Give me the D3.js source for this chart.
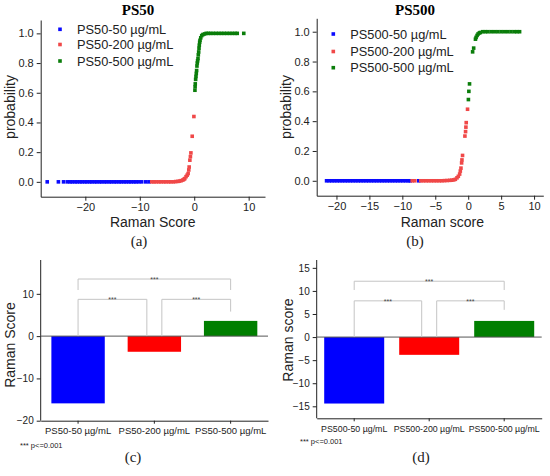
<!DOCTYPE html>
<html>
<head>
<meta charset="utf-8">
<script src="https://cdn.jsdelivr.net/npm/d3@7"></script>
<style>
  body { margin: 0; background: #fff; }
  svg { display: block; }
</style>
</head>
<body>
<svg id="chart" width="550" height="476"></svg>
<script>
// ---- data ----
// panel (a) PS50: [Raman score, probability]
var ps50_50 = [[-27.0,0],[-24.95,0],[-24.0,0],[-23.3,0],[-22.8,0],[-22.4,0],[-21.9,0],[-21.5,0],[-21.0,0],
  [-20.6,0],[-20.1,0],[-19.7,0],[-19.2,0],[-18.8,0],[-18.3,0],[-17.9,0],[-17.4,0],[-17.0,0],[-16.5,0],
  [-16.1,0],[-15.6,0],[-15.2,0],[-14.7,0],[-14.3,0],[-13.8,0],[-13.4,0],[-12.9,0],[-12.5,0],[-12.0,0],
  [-11.6,0],[-11.1,0],[-10.7,0],[-10.2,0],[-9.65,0],[-8.9,0],[-8.3,0]];
var ps50_200 = [[-7.8,0],[-7.4,0],[-7.0,0],[-6.5,0],[-6.1,0],[-5.6,0],[-5.2,0],[-4.7,0],[-4.3,0],
  [-3.8,0],[-3.4,0.002],[-3.0,0.003],[-2.7,0.005],[-2.4,0.008],[-2.1,0.012],[-1.9,0.017],[-1.73,0.022],
  [-1.5,0.035],[-1.3,0.045],[-1.12,0.056],[-1.0,0.08],[-0.93,0.10],[-0.8,0.146],[-0.7,0.17],
  [-0.61,0.195],[-0.37,0.307],[-0.06,0.44]];
var ps50_500 = [[0.13,0.617],[0.16,0.64],[0.19,0.66],[0.26,0.69],[0.32,0.71],[0.38,0.73],[0.44,0.75],
  [0.5,0.78],[0.56,0.80],[0.62,0.815],[0.69,0.83],[0.75,0.855],[0.82,0.875],[0.88,0.9],[0.93,0.92],
  [1.0,0.94],[1.06,0.953],[1.2,0.97],[1.38,0.985],[1.6,0.992],[1.9,0.996],[2.2,1],[2.6,1],[3.0,1],
  [3.5,1],[4.0,1],[4.5,1],[5.0,1],[5.5,1],[6.0,1],[6.5,1],[7.0,1],[7.5,1],[7.9,1],[9.1,1]];

// panel (b) PS500
var ps500_50 = [[-21.5,0],[-21.1,0],[-20.7,0],[-20.3,0],[-19.9,0],[-19.5,0],[-19.1,0],[-18.7,0],[-18.3,0],
  [-17.9,0],[-17.5,0],[-17.1,0],[-16.7,0],[-16.3,0],[-15.9,0],[-15.5,0],[-15.1,0],[-14.7,0],[-14.3,0],
  [-13.9,0],[-13.5,0],[-13.1,0],[-12.7,0],[-12.3,0],[-11.9,0],[-11.5,0],[-11.1,0],[-10.7,0],[-10.3,0],
  [-9.9,0],[-9.5,0],[-9.1,0],[-8.8,0],[-7.5,0]];
var ps500_200 = [[-8.5,0],[-8.1,0],[-7.2,0],[-6.8,0],[-6.4,0],[-6.0,0],[-5.6,0],[-5.2,0],[-4.8,0],
  [-4.4,0],[-4.0,0],[-3.6,0.001],[-3.2,0.002],[-2.8,0.003],[-2.5,0.004],[-2.2,0.006],[-1.95,0.01],
  [-1.7,0.02],[-1.5,0.03],[-1.3,0.045],[-1.2,0.065],[-1.1,0.085],[-1.0,0.12],[-0.95,0.14],
  [-0.86,0.17],[-0.5,0.30],[-0.4,0.33],[-0.35,0.36],[-0.3,0.39],[-0.1,0.48]];
var ps500_500 = [[0.03,0.545],[0.1,0.60],[0.2,0.65],[0.67,0.865],[0.83,0.89],[1.1,0.95],[1.2,0.962],
  [1.35,0.975],[1.5,0.985],[1.7,0.992],[1.85,0.995],[2.2,1],[2.6,1],[3.0,1],[3.5,1],[4.0,1],[4.5,1],
  [5.0,1],[5.5,1],[6.0,1],[6.5,1],[7.0,1],[7.4,1],[7.8,1]];

// bar panels
var cats50 = ["PS50-50 µg/mL", "PS50-200 µg/mL", "PS50-500 µg/mL"];
var score50 = [-15.9, -3.7, 3.6];
var cats500 = ["PS500-50 µg/mL", "PS500-200 µg/mL", "PS500-500 µg/mL"];
var score500 = [-14.4, -3.85, 3.5];

var probTicks = [0, 0.2, 0.4, 0.6, 0.8, 1.0];
var xTicksA = [-20, -10, 0, 10];
var xTicksB = [-20, -15, -10, -5, 0, 5, 10];
var yTicksC = [-20, -10, 0, 10];
var yTicksD = [-15, -10, -5, 0, 5, 10, 15];

var scatterColors = ["#0a0aff", "#f04848", "#0a7d0a"];
var barColors = ["#0000ff", "#ff0000", "#007f00"];

var sans = "'Liberation Sans', Arial, sans-serif";
var serif = "'Liberation Serif', 'Times New Roman', serif";

var svg = d3.select("#chart");
svg.append("rect").attr("width", 550).attr("height", 476).attr("fill", "#fff");

function styleAxis(g, size) {
    g.select(".domain").attr("stroke", "#222");
    g.selectAll(".tick line").attr("stroke", "#222");
    g.selectAll(".tick text").attr("font-family", sans).attr("font-size", size).attr("fill", "#222");
}

// scatter panel (probability vs score)
function scatterPanel(o) {
    var x = d3.scaleLinear().domain(o.xDomain).range([o.left, o.right]);
    var y = d3.scaleLinear().domain([-0.1, 1.09]).range([o.bottom, o.top]);

    var gx = svg.append("g").attr("transform", "translate(0," + o.bottom + ")")
        .call(d3.axisBottom(x).tickValues(o.xTicks).tickSize(4).tickSizeOuter(0).tickPadding(3));
    styleAxis(gx, 11);
    var gy = svg.append("g").attr("transform", "translate(" + o.left + ",0)")
        .call(d3.axisLeft(y).tickValues(probTicks).tickFormat(d3.format(".1f")).tickSize(4).tickSizeOuter(0));
    styleAxis(gy, 11);

    o.series.forEach(function (s, i) {
        svg.append("g").selectAll("rect")
            .data(s)
            .enter()
            .append("rect")
            .attr("x", function (d) { return x(d[0]) - 1.8; })
            .attr("y", function (d) { return y(d[1]) - 1.8; })
            .attr("width", 3.6)
            .attr("height", 3.6)
            .attr("fill", scatterColors[i]);
    });

    // legend
    o.names.forEach(function (n, i) {
        var ly = o.legendY[i];
        svg.append("rect").attr("x", o.legendX - 1.8).attr("y", ly - 1.8)
            .attr("width", 3.6).attr("height", 3.6).attr("fill", scatterColors[i]);
        svg.append("text").attr("x", o.legendX + 17).attr("y", ly + 4.5)
            .attr("font-family", sans).attr("font-size", 12.8).attr("fill", "#222").text(n);
    });

    svg.append("text").attr("x", o.titleX).attr("y", 15).attr("text-anchor", "middle")
        .attr("font-family", serif).attr("font-weight", "bold").attr("font-size", 15).text(o.title);
    svg.append("text").attr("x", o.xLabelX).attr("y", 227).attr("text-anchor", "middle")
        .attr("font-family", sans).attr("font-size", 14).attr("fill", "#222").text(o.xLabel);
    svg.append("text").attr("transform", "translate(" + o.yLabelX + ",107) rotate(-90)")
        .attr("text-anchor", "middle").attr("font-family", sans).attr("font-size", 14)
        .attr("fill", "#222").text("probability");
}

// bar panel with significance brackets
function barPanel(o) {
    var x = d3.scaleBand().domain(o.cats).range([o.left, o.right])
        .paddingInner(o.padIn).paddingOuter(o.padOut);
    var y = d3.scaleLinear().domain(o.yDomain).range([o.bottom, o.top]);

    var gx = svg.append("g").attr("transform", "translate(0," + o.bottom + ")")
        .call(d3.axisBottom(x).tickSize(3).tickSizeOuter(0).tickPadding(4));
    styleAxis(gx, o.catSize);
    var gy = svg.append("g").attr("transform", "translate(" + o.left + ",0)")
        .call(d3.axisLeft(y).tickValues(o.yTicks).tickSize(4).tickSizeOuter(0));
    styleAxis(gy, 10);
    gy.select(".domain").attr("d", "M0," + o.bottom + "V" + o.top);

    svg.append("g").selectAll("rect")
        .data(o.values)
        .enter()
        .append("rect")
        .attr("x", function (d, i) { return x(o.cats[i]); })
        .attr("width", x.bandwidth())
        .attr("y", function (d) { return y(Math.max(0, d)); })
        .attr("height", function (d) { return Math.abs(y(d) - y(0)); })
        .attr("fill", function (d, i) { return barColors[i]; });

    svg.append("line").attr("x1", o.left).attr("x2", o.right)
        .attr("y1", y(0)).attr("y2", y(0)).attr("stroke", "#555").attr("stroke-width", 1);

    var cx = function (i) { return x(o.cats[i]) + x.bandwidth() / 2; };
    // [from, to, level, left drop-to, right drop-to, left offset, right offset]
    var br = [
        [0, 1, o.levels[1], 0, 0, 0, -7.5],
        [1, 2, o.levels[1], 0, o.levels[2], 7.5, 0],
        [0, 2, o.levels[0], o.levels[3], o.levels[3], 0, 0]
    ];
    br.forEach(function (b) {
        var x1 = cx(b[0]) + b[5], x2 = cx(b[1]) + b[6];
        svg.append("path")
            .attr("d", "M" + x1 + "," + y(b[3]) + "V" + y(b[2]) + "H" + x2 + "V" + y(b[4]))
            .attr("fill", "none").attr("stroke", "#c4c4c4").attr("stroke-width", 1);
        svg.append("text").attr("x", (x1 + x2) / 2).attr("y", y(b[2]) + 3)
            .attr("text-anchor", "middle").attr("font-family", sans).attr("font-size", 7)
            .attr("fill", "#444").text("***");
    });

    svg.append("text").attr("transform", "translate(" + o.yLabelX + "," + o.yLabelY + ") rotate(-90)")
        .attr("text-anchor", "middle").attr("font-family", sans).attr("font-size", 14)
        .attr("fill", "#222").text(o.yLabel);
    svg.append("text").attr("x", o.noteX).attr("y", o.noteY)
        .attr("font-family", sans).attr("font-size", 7.5).attr("fill", "#222").text("*** p<=0.001");
}

scatterPanel({
    left: 40.7, right: 265, top: 20, bottom: 196.7,
    xDomain: [-28.2, 13.0], xTicks: xTicksA,
    series: [ps50_50, ps50_200, ps50_500],
    names: ["PS50-50 µg/mL", "PS50-200 µg/mL", "PS50-500 µg/mL"],
    legendX: 60, legendY: [29.3, 44.5, 61],
    title: "PS50", titleX: 138, xLabel: "Raman Score", xLabelX: 152.7, yLabelX: 15
});
scatterPanel({
    left: 316.7, right: 543.3, top: 18.3, bottom: 195.7,
    xDomain: [-23.0, 11.4], xTicks: xTicksB,
    series: [ps500_50, ps500_200, ps500_500],
    names: ["PS500-50 µg/mL", "PS500-200 µg/mL", "PS500-500 µg/mL"],
    legendX: 333.3, legendY: [34, 51.5, 67.7],
    title: "PS500", titleX: 415, xLabel: "Raman score", xLabelX: 442.3, yLabelX: 291
});

barPanel({
    left: 40.7, right: 268, top: 260, bottom: 420.7,
    cats: cats50, values: score50, yDomain: [-20, 18], yTicks: yTicksC,
    padIn: 0.3, padOut: 0.14, catSize: 9.5,
    levels: [13.5, 8.7, 5.8, 10.9],
    yLabel: "Raman Score", yLabelX: 15, yLabelY: 345, noteX: 20, noteY: 448
});
barPanel({
    left: 316.7, right: 541.7, top: 260, bottom: 418.3,
    cats: cats500, values: score500, yDomain: [-17.6, 16.7], yTicks: yTicksD,
    padIn: 0.2, padOut: 0.1, catSize: 8.8,
    levels: [12.1, 7.85, 5.9, 10.2],
    yLabel: "Raman score", yLabelX: 293, yLabelY: 340, noteX: 300, noteY: 444
});

// sub-figure captions
[["(a)", 139, 246], ["(b)", 415, 246], ["(c)", 133, 462], ["(d)", 421, 462]].forEach(function (c) {
    svg.append("text").attr("x", c[1]).attr("y", c[2]).attr("text-anchor", "middle")
        .attr("font-family", serif).attr("font-size", 15).attr("fill", "#222").text(c[0]);
});
</script>
</body>
</html>
